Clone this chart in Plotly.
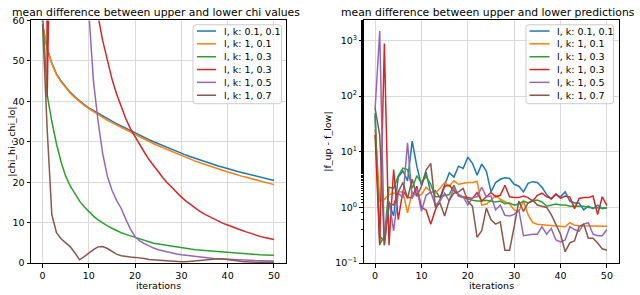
import plotly.graph_objects as go

iterations = list(range(51))
names = ["l, k: 0.1, 0.1", "l, k: 1, 0.1", "l, k: 1, 0.3", "l, k: 1, 0.3", "l, k: 1, 0.5", "l, k: 1, 0.7"]
colors = ["#1f77b4", "#ff7f0e", "#2ca02c", "#d62728", "#9467bd", "#8c564b"]

# left panel: |chi_hi - chi_lo|
chi_blue = [59, 53, 49.5, 46.8, 45, 43.5, 42.2, 41.1, 40.1, 39.2, 38.4, 37.7, 37.0, 36.3, 35.7, 35.1, 34.5, 33.9, 33.3, 32.7,
            32.1, 31.6, 31.0, 30.5, 30.0, 29.5, 29.0, 28.5, 28.0, 27.6, 27.1, 26.7, 26.3, 25.9, 25.5, 25.1, 24.7, 24.4, 24.0, 23.7,
            23.3, 23.0, 22.7, 22.4, 22.1, 21.8, 21.5, 21.2, 20.9, 20.6, 20.4]
chi_orange = [59, 53, 49.3, 46.6, 44.8, 43.3, 42.0, 40.9, 39.9, 39.0, 38.2, 37.4, 36.7, 36.0, 35.3, 34.7, 34.1, 33.5, 32.9, 32.3,
              31.7, 31.1, 30.5, 30.0, 29.5, 29.0, 28.5, 28.0, 27.5, 27.0, 26.5, 26.1, 25.6, 25.2, 24.8, 24.4, 24.0, 23.6, 23.2, 22.9,
              22.5, 22.2, 21.8, 21.5, 21.2, 20.9, 20.6, 20.3, 20.0, 19.7, 19.4]
chi_green = [62, 41.5, 35, 29.5, 25, 21.5, 19, 17, 15.3, 13.9, 12.7, 11.6, 10.7, 9.9, 9.2, 8.6, 8.0, 7.5, 7.1, 6.7,
             6.4, 5.9, 5.5, 5.2, 4.9, 4.7, 4.5, 4.3, 4.1, 3.9, 3.75, 3.6, 3.45, 3.3, 3.2, 3.1, 3.0, 2.9, 2.8, 2.7,
             2.6, 2.5, 2.45, 2.35, 2.3, 2.2, 2.15, 2.05, 2.0, 1.95, 1.9]
chi_red = [500, 41, 300, 175, 155, 138, 123, 110, 98, 88, 79, 70, 61, 55, 50, 45.5, 41.8, 38.5, 35.7, 33.2,
           31.2, 29.3, 27.4, 25.6, 24.0, 22.5, 21.1, 19.8, 18.6, 17.4, 16.3, 15.3, 14.4, 13.6, 12.8, 12.1, 11.5, 10.9, 10.3, 9.8,
           9.4, 8.9, 8.5, 8.1, 7.7, 7.3, 7.0, 6.6, 6.3, 6.0, 5.8]
chi_purple = [59.5, 500, 450, 400, 350, 300, 250, 200, 150, 100, 62, 45, 35, 27, 21.5, 18, 15.5, 13.5, 10.8, 8.4,
              6.5, 5.5, 4.8, 4.2, 3.7, 3.3, 3.0, 2.7, 2.45, 2.25, 2.05, 1.9, 1.75, 1.6, 1.48, 1.36, 1.25, 1.15, 1.05, 0.97,
              0.9, 0.84, 0.78, 0.73, 0.68, 0.64, 0.6, 0.57, 0.54, 0.52, 0.5]
chi_brown = [59, 33, 12, 7.5, 6, 5, 4, 2.5, 0.8, 1.6, 2.5, 3.3, 4.0, 4.1, 3.6, 2.8, 2.2, 1.8, 1.6, 1.5,
             1.4, 1.3, 1.1, 0.9, 0.8, 0.7, 0.6, 0.55, 0.45, 0.35, 0.3, 0.35, 0.45, 0.6, 0.75, 0.9, 1.0, 1.05, 1.05, 1.0,
             0.9, 0.75, 0.55, 0.4, 0.3, 0.25, 0.22, 0.2, 0.2, 0.2, 0.2]

# right panel: |f_up - f_low|
f_blue = [50, 0.3, 0.25, 1.2, 0.7, 3.5, 4.5, 3.0, 15.5, 5.5, 2.5, 4.3, 1.8, 2.0, 1.5, 2.5, 4.2, 3.5, 5.5, 5.0,
          8.0, 6.2, 3.8, 6.0, 4.5, 1.9, 2.8, 3.2, 3.4, 3.3, 2.6, 2.4, 1.9, 2.7, 2.9, 2.8, 2.3, 1.7, 1.4, 1.7,
          1.55, 1.9, 1.3, 1.2, 1.2, 0.9, 1.05, 0.95, 1.1, 0.95, 1.0]
f_orange = [25, 1.3, 1.4, 1.7, 1.8, 1.9, 1.9, 0.8, 1.9, 1.6, 1.7, 2.3, 1.9, 1.8, 2.2, 2.8, 2.4, 3.0, 2.6, 2.7,
            2.8, 2.8, 2.95, 1.1, 1.15, 1.35, 1.65, 1.4, 1.25, 1.15, 0.9, 0.85, 1.3, 0.74, 0.53, 0.5, 0.49, 0.48, 0.47, 0.47,
            0.46, 0.45, 0.53, 0.48, 0.47, 0.47, 0.46, 0.46, 0.46, 0.46, 0.46]
f_green = [45, 0.22, 0.3, 2.3, 2.2, 3.7, 5.1, 4.8, 2.2, 3.7, 2.8, 3.6, 2.6, 1.55, 1.55, 1.6, 1.7, 2.5, 1.6, 1.5,
           1.4, 1.35, 1.3, 1.3, 1.35, 1.3, 1.25, 1.3, 1.17, 1.2, 1.1, 1.15, 1.3, 1.2, 1.3, 1.35, 1.25, 1.05, 1.1, 1.15,
           1.1, 1.1, 1.05, 1.05, 1.08, 1.05, 1.0, 1.0, 0.98, 0.98, 0.97]
f_red = [20, 0.21, 880, 0.21, 4.8, 0.6, 2.0, 1.5, 1.5, 2.4, 1.0, 0.9, 0.5, 0.9, 1.4, 2.4, 2.5, 2.0, 1.7, 1.55,
         1.5, 1.45, 1.85, 1.3, 1.55, 1.85, 1.55, 1.65, 2.5, 1.55, 1.5, 1.5, 1.6, 1.5, 1.3, 1.65, 1.8, 1.55, 1.45, 1.75,
         1.45, 1.6, 1.55, 0.95, 1.45, 1.5, 1.5, 1.6, 0.74, 1.55, 1.08]
f_purple = [58, 1480, 0.21, 1.3, 0.38, 1.8, 1.5, 14.5, 1.45, 2.2, 0.85, 1.65, 1.9, 1.1, 1.3, 1.8, 1.3, 2.3, 1.6, 1.55,
            1.1, 1.5, 1.55, 2.3, 1.55, 1.6, 0.9, 1.1, 0.72, 0.7, 0.75, 0.9, 0.31, 0.32, 0.33, 0.33, 0.45, 0.33, 0.42, 0.26,
            0.24, 0.26, 0.45, 0.4, 0.37, 0.5, 0.53, 0.33, 0.31, 0.31, 0.4]
f_brown = [60, 20, 0.21, 1.2, 1.1, 1.9, 2.8, 1.45, 3.2, 1.6, 2.4, 4.7, 6.2, 1.0, 1.2, 0.7, 1.35, 1.8, 1.9, 2.2,
           1.3, 1.05, 0.29, 0.38, 0.97, 0.6, 0.5, 0.55, 0.17, 0.17, 0.45, 1.3, 0.85, 1.2, 1.35, 1.1, 1.05, 1.0, 0.74, 0.5,
           0.33, 0.16, 0.23, 0.25, 0.45, 0.5, 0.28, 0.28, 0.23, 0.18, 0.17]

chi_series = [chi_blue, chi_orange, chi_green, chi_red, chi_purple, chi_brown]
f_series = [f_blue, f_orange, f_green, f_red, f_purple, f_brown]
for s in chi_series + f_series:
    assert len(s) == 51, len(s)

W, H = 640, 295
FONT = "DejaVu Sans"


def px(x):
    return x / W


def py(y):
    return 1 - y / H


fig = go.Figure()
for name, c, ys in zip(names, colors, chi_series):
    fig.add_trace(go.Scatter(x=iterations, y=ys, mode="lines", name=name, line=dict(color=c, width=1.5),
                             xaxis="x", yaxis="y", showlegend=False))
for name, c, ys in zip(names, colors, f_series):
    fig.add_trace(go.Scatter(x=iterations, y=ys, mode="lines", name=name, line=dict(color=c, width=1.5),
                             xaxis="x2", yaxis="y2", showlegend=False))

axis_common = dict(showline=True, linecolor="black", linewidth=1, mirror=True, ticks="outside", ticklen=3.5,
                   tickwidth=0.8, tickcolor="black", showgrid=True, gridcolor="#d9d9d9", gridwidth=1,
                   zeroline=False, tickfont=dict(family=FONT, size=9.5, color="black"))

top, bottom = 15, 267
ydom = [py(bottom), py(top)]
fig.update_layout(
    width=W, height=H, margin=dict(l=0, r=0, t=0, b=0),
    paper_bgcolor="white", plot_bgcolor="white",
    font=dict(family=FONT, size=9.5, color="black"),
    xaxis=dict(domain=[px(31), px(285.5)], range=[-2.5, 52.5], tickvals=[0, 10, 20, 30, 40, 50], anchor="y", **axis_common),
    yaxis=dict(domain=ydom, range=[0, 60], tickvals=[0, 10, 20, 30, 40, 50, 60], anchor="x", **axis_common),
    xaxis2=dict(domain=[px(363.5), px(618.5)], range=[-2.5, 52.5], tickvals=[0, 10, 20, 30, 40, 50], anchor="y2", **axis_common),
    yaxis2=dict(domain=ydom, type="log", range=[-1, 3.36], tickvals=[0.1, 1, 10, 100, 1000],
                ticktext=["10<sup>−1</sup>", "10<sup>0</sup>", "10<sup>1</sup>", "10<sup>2</sup>", "10<sup>3</sup>"],
                anchor="x2", minor=dict(ticks="outside", ticklen=2, tickcolor="black", showgrid=False),
                **axis_common),
)


def text(t, x, y, size=9.5, xanchor="center", angle=0):
    fig.add_annotation(text=t, x=px(x), y=py(y), xref="paper", yref="paper", showarrow=False,
                       xanchor=xanchor, yanchor="middle", textangle=angle,
                       font=dict(family=FONT, size=size, color="black"))


text("mean difference between upper and lower chi values", 156, 6.5, size=10.8)
text("mean difference between upper and lower predictions", 488, 6.5, size=10.8)
text("iterations", 158, 290)
text("iterations", 491, 290)
text("|chi_hi - chi_lo|", 12, 141, angle=-90)
text("|f_up - f_low|", 328, 141, angle=-90)


def rounded_box(x0, y0, x1, y1, r=3):
    rx, ry = r / W, r / H
    X0, X1, Y0, Y1 = px(x0), px(x1), py(y0), py(y1)
    path = (f"M {X0 + rx},{Y0} L {X1 - rx},{Y0} Q {X1},{Y0} {X1},{Y0 - ry} "
            f"L {X1},{Y1 + ry} Q {X1},{Y1} {X1 - rx},{Y1} "
            f"L {X0 + rx},{Y1} Q {X0},{Y1} {X0},{Y1 + ry} "
            f"L {X0},{Y0 - ry} Q {X0},{Y0} {X0 + rx},{Y0} Z")
    fig.add_shape(type="path", path=path, xref="paper", yref="paper", layer="above",
                  fillcolor="rgba(255,255,255,0.8)", line=dict(color="#cccccc", width=1))


def legend(box, line_x0, line_x1, text_x, rows):
    rounded_box(*box)
    for name, c, yy in zip(names, colors, rows):
        fig.add_shape(type="line", x0=px(line_x0), x1=px(line_x1), y0=py(yy), y1=py(yy), xref="paper", yref="paper",
                      layer="above", line=dict(color=c, width=1.5))
        text(name, text_x, yy, xanchor="left")


legend((193, 19.5, 281.5, 101.5), 197, 216, 222, [26, 39.3, 52.7, 66, 79.3, 92.7])
legend((526, 19.5, 613.5, 101.5), 529.5, 549.5, 555, [26, 39.3, 52.7, 66, 79.3, 92.7])

fig.write_html("out.html", config={"displayModeBar": False},
               post_script="document.body.style.margin='0';document.body.style.overflow='hidden';")
